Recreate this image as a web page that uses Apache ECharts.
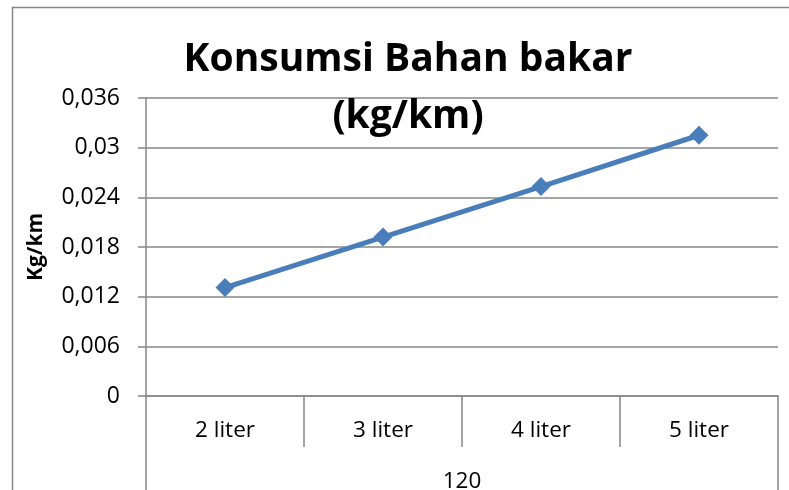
<!DOCTYPE html>
<html><head><meta charset="utf-8">
<script src="https://cdn.jsdelivr.net/npm/echarts@6/dist/echarts.min.js"></script>
<style>html,body{margin:0;padding:0;background:#fff}#c{width:789px;height:490px}</style>
</head><body><div id="c"></div>
<script>
const categories = ['2 liter', '3 liter', '4 liter', '5 liter'];
const groupLabels = ['120'];
const consumption = [0.0131, 0.0192, 0.0253, 0.0315];
const yTicks = { min: 0, max: 0.036, interval: 0.006 };

const FONT = '"Open Sans", "Noto Sans", sans-serif';
const gray = '#878787';
function fmt(v) {
  let s = (+v).toFixed(3).replace(/0+$/, '').replace(/\.$/, '');
  return s.replace('.', ',');
}
const chart = echarts.init(document.getElementById('c'));
chart.setOption({
  animation: false,
  backgroundColor: '#fff',
  title: {
    text: 'Konsumsi Bahan bakar\n(kg/km)',
    left: 403, top: 26, textAlign: 'center',
    textStyle: { fontFamily: FONT, fontWeight: 'bold', fontSize: 39, lineHeight: 57, color: '#000' }
  },
  graphic: [{
    type: 'rect', shape: { x: 12.5, y: 7.5, width: 800, height: 500 },
    style: { fill: 'none', stroke: gray, lineWidth: 1.5 }, z: -1, silent: true
  }],
  grid: { left: 146, right: 11, top: 98, bottom: 94, containLabel: false, outerBoundsMode: 'none' },
  xAxis: [{
    type: 'category', data: categories, boundaryGap: true, position: 'bottom',
    axisLine: { show: true, lineStyle: { color: gray, width: 1.5 } },
    axisTick: { show: true, interval: 0, length: 51, lineStyle: { color: gray, width: 1.5 } },
    axisLabel: { interval: 0, margin: 23, fontFamily: FONT, fontSize: 22.5, color: '#000' }
  }, {
    type: 'category', data: groupLabels, boundaryGap: true, position: 'bottom', offset: 51,
    axisLine: { show: false },
    axisTick: { show: true, interval: 0, length: 45, lineStyle: { color: gray, width: 1.5 } },
    axisLabel: { interval: 0, margin: 23, fontFamily: FONT, fontSize: 22.5, color: '#000' }
  }],
  yAxis: {
    type: 'value', min: yTicks.min, max: yTicks.max, interval: yTicks.interval,
    name: 'Kg/km', nameLocation: 'middle', nameRotate: 90, nameGap: 99,
    nameTextStyle: { fontFamily: FONT, fontWeight: 'bold', fontSize: 21, color: '#000' },
    axisLine: { show: true, lineStyle: { color: gray, width: 1.5 } },
    axisTick: { show: true, length: 8, lineStyle: { color: gray, width: 1.5 } },
    splitLine: { show: true, lineStyle: { color: gray, width: 1.5 } },
    axisLabel: { margin: 26, fontFamily: FONT, fontSize: 23, color: '#000', formatter: fmt }
  },
  series: [{
    type: 'line', data: consumption, xAxisIndex: 0,
    symbol: 'diamond', symbolSize: 19,
    lineStyle: { color: '#4A7EBB', width: 5 },
    itemStyle: { color: '#4A7EBB' }
  }]
});
</script></body></html>
